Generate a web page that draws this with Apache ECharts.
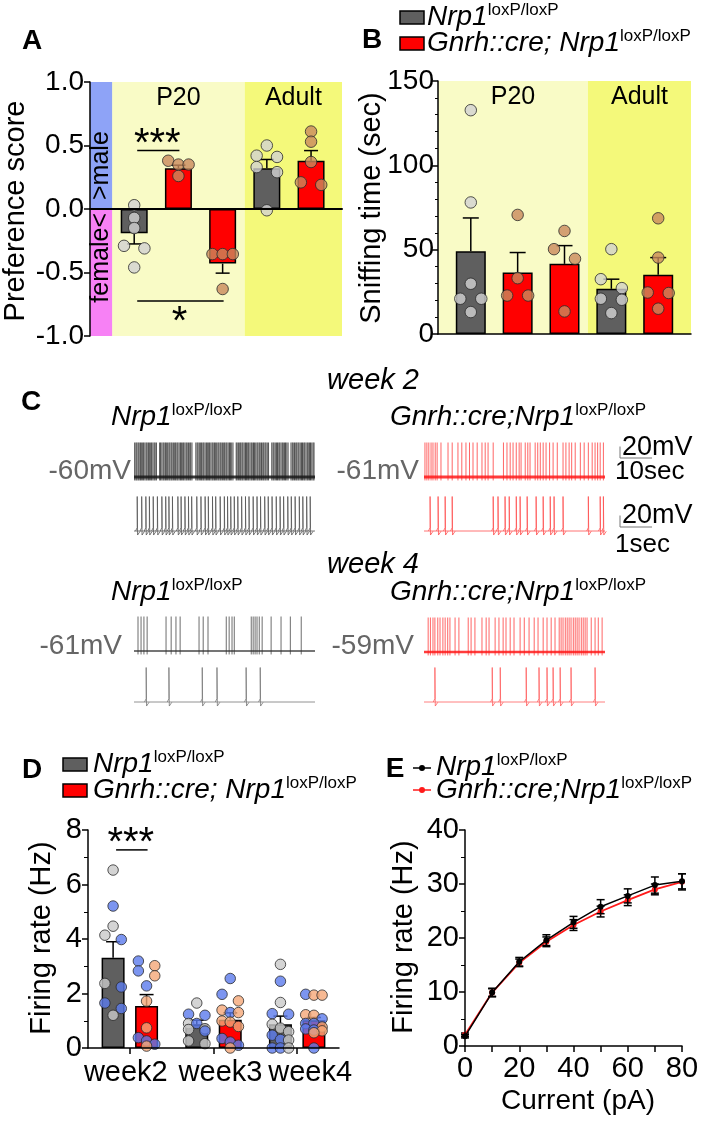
<!DOCTYPE html>
<html><head><meta charset="utf-8">
<script src="https://cdn.jsdelivr.net/npm/echarts@6.0.0/dist/echarts.min.js"></script>
<style>html,body{margin:0;padding:0;background:#fff}#c{width:709px;height:1121px}</style>
</head><body><div id="c"></div>
<script>
// ---------------- DATA ----------------
// Panel A: preference score
const aPositions = [1, 2, 3, 4, 5];
const aGenotype = ['ctrl', 'cko', 'cko', 'ctrl', 'cko'];
const aMeans = [-0.19, 0.32, -0.43, 0.32, 0.38];
const aSem = [0.085, 0.025, 0.075, 0.07, 0.08];
const aDots = [
  [0.03, -0.07, -0.15, -0.29, -0.31, -0.46],
  [0.38, 0.35, 0.35, 0.26],
  [-0.355, -0.355, -0.355, -0.63],
  [0.50, 0.42, 0.41, 0.33, 0.29, -0.01],
  [0.61, 0.53, 0.37, 0.19, 0.21]
];
const aBands = [{ name: 'P20', from: 0.5, to: 3.5 }, { name: 'Adult', from: 3.5, to: 5.7 }];
const aSideBands = [{ name: '>male', from: 0, to: 1 }, { name: 'female<', from: -1, to: 0 }];
const aSig = [[1, 2, 0.46, '***', 'above'], [1, 3, -0.725, '*', 'below']];

// Panel B: sniffing time
const bPositions = [1, 2, 3, 4, 5];
const bGenotype = ['ctrl', 'cko', 'cko', 'ctrl', 'cko'];
const bMeans = [49, 36.5, 41.6, 26.8, 35.1];
const bSem = [19.8, 11.8, 10.8, 5.7, 10.2];
const bDots = [
  [132.7, 78, 29.8, 20.9, 20.9, 13],
  [70.6, 33.1, 22.8, 22.8],
  [61.1, 50.3, 44.6, 13.4],
  [50.3, 32.5, 27.2, 20.9, 20.3, 12.4],
  [68.6, 45.3, 24.6, 24.3, 15]
];
const bBands = [{ name: 'P20', from: 0.3, to: 3.5 }, { name: 'Adult', from: 3.5, to: 5.7 }];

// Panel C: spike times (s); long traces span 56.5 s, short traces 5.65 s
const w2CtrlTop = [0.2,0.6,0.9,1.3,1.6,2.0,2.3,2.7,3.0,3.4,3.8,4.1,4.5,4.8,5.2,5.5,5.9,6.3,6.6,7.0,
  8.0,8.3,8.7,9.1,9.4,9.8,10.1,10.5,10.9,11.2,11.6,11.9,12.3,12.7,13.0,13.4,13.7,14.1,14.5,14.8,15.2,15.5,15.9,16.3,16.6,17.0,17.4,17.7,18.1,
  19.3,19.7,20.0,20.4,20.8,21.1,21.5,21.8,22.2,22.6,22.9,23.3,23.6,24.0,24.4,24.7,25.1,25.4,25.8,26.2,26.5,26.9,27.2,27.6,28.0,28.3,28.7,29.0,29.4,29.8,30.1,30.5,30.9,
  31.9,32.2,32.6,33.0,33.3,33.7,34.0,34.4,34.8,35.1,35.5,35.8,36.2,36.6,36.9,37.3,37.6,38.0,38.4,38.7,39.1,39.4,39.8,40.2,40.5,40.9,41.2,41.6,42.0,
  43.0,43.4,43.7,44.1,44.5,44.8,45.2,45.5,45.9,46.3,46.6,47.0,47.3,47.7,48.1,
  49.0,49.4,49.7,50.1,50.5,50.8,51.2,51.5,51.9,52.3,52.6,53.0,53.3,53.7,54.1,54.4,54.8,55.1,55.5,55.9,56.2];
const w2CkoTop = [0.3,0.9,1.5,2.2,2.8,3.5,4.1,5.3,7.5,8.8,10.6,11.8,13.1,14.2,15.3,16.6,18.1,19.1,20.0,21.6,24.8,25.9,26.9,27.8,28.8,29.7,30.3,31.6,32.4,33.1,34.7,35.5,36.3,37.2,38.1,39.2,40.3,41.6,43.4,44.3,45.3,46.1,47.2,48.8,50.0,51.3,52.5,53.4,54.2,55.0,56.0];
const w2CtrlBottom = [0.10,0.24,0.37,0.48,0.60,0.73,0.87,0.99,1.09,1.20,1.37,1.47,1.59,1.70,1.80,1.96,2.09,2.22,2.32,2.45,2.55,2.69,2.82,2.92,3.02,3.13,3.24,3.36,3.48,3.59,3.72,3.84,3.95,4.08,4.19,4.31,4.44,4.56,4.67,4.80,4.91,5.03,5.16,5.27,5.39,5.50];
const w2CkoBottom = [0.19,0.44,0.66,0.88,2.16,2.31,2.53,2.66,2.88,3.0,3.22,3.5,3.72,3.94,4.06,4.34,5.13,5.5,5.6];
const w4CtrlTop = [1.25,2.2,3.1,4.1,10.0,11.6,13.1,14.4,20.3,21.6,23.1,28.8,29.7,30.6,31.3,36.6,37.2,37.8,38.4,39.1,40.0,42.8,45.9,48.8,52.2];
const w4CkoTop = [1.3,2.0,2.8,3.4,4.3,5.0,5.9,6.6,7.4,8.1,9.7,10.9,13.8,14.7,15.9,18.1,19.4,20.3,22.2,23.4,24.7,25.6,26.9,28.1,30.0,31.3,32.8,34.4,35.6,37.2,38.4,39.7,40.9,42.2,42.8,43.4,44.1,44.7,45.3,45.9,46.6,47.2,47.8,48.4,49.1,49.7,50.3,50.9,52.2,53.4,54.4,55.6];
const w4CtrlBottom = [0.38,1.09,2.13,2.59,3.5,3.94];
const w4CkoBottom = [0.34,2.13,2.38,3.19,3.59,3.84,4.03,4.25,4.59,5.34];
const restPotentials = ['-60mV', '-61mV', '-61mV', '-59mV'];
const scaleBars = [{ mv: 20, sec: 10, mvLabel: '20mV', secLabel: '10sec' }, { mv: 20, sec: 1, mvLabel: '20mV', secLabel: '1sec' }];

// Panel D: firing rate by week
const dWeeks = ['week2', 'week3', 'week4'];
const dCtrlMean = [3.31, 0.87, 0.87];
const dCtrlSem = [0.59, 0.15, 0.3];
const dCkoMean = [1.54, 1.04, 1.02];
const dCkoSem = [0.42, 0.25, 0.1];
const dCtrlW2 = [[6.53,'g'],[5.21,'b'],[4.47,'g'],[4.14,'g'],[3.98,'b'],[2.37,'g'],[2.24,'b'],[1.65,'b'],[1.45,'b'],[1.20,'g']];
const dCkoW2 = [[3.19,'b'],[3.02,'o'],[2.83,'b'],[2.65,'o'],[2.28,'b'],[1.72,'o'],[0.74,'o'],[0.38,'b'],[0.26,'b'],[0.14,'b'],[0.07,'o']];
const dCtrlW3 = [[1.65,'g'],[1.24,'b'],[1.20,'b'],[0.90,'g'],[0.90,'b'],[0.71,'g'],[0.68,'g'],[0.62,'b'],[0.26,'g'],[0.16,'g']];
const dCkoW3 = [[2.55,'b'],[1.97,'b'],[1.73,'o'],[1.39,'o'],[1.30,'b'],[1.30,'o'],[0.99,'o'],[0.95,'o'],[0.79,'o'],[0.35,'b'],[0.22,'b'],[0.10,'b'],[0.0,'o']];
const dCtrlW4 = [[3.07,'g'],[2.45,'b'],[1.67,'g'],[1.26,'b'],[1.24,'b'],[0.87,'g'],[0.73,'g'],[0.60,'g'],[0.47,'b'],[0.31,'b'],[0.29,'g'],[0.0,'b'],[0.0,'b'],[0.0,'g']];
const dCkoW4 = [[1.97,'b'],[1.94,'o'],[1.94,'o'],[1.22,'o'],[1.20,'o'],[1.07,'b'],[0.90,'b'],[0.90,'b'],[0.77,'o'],[0.70,'b'],[0.66,'b'],[0.63,'o'],[0.56,'o'],[0.0,'b']];
const dSig = [[0.8, 1.2, 7.27, '***']];

// Panel E: F-I curve
const eCurrent = [0, 10, 20, 30, 40, 50, 60, 70, 80];
const eCtrl = [1.8, 9.9, 15.6, 19.6, 22.9, 25.8, 27.8, 29.8, 30.5];
const eCtrlSem = [0.3, 0.8, 0.8, 1.0, 1.1, 1.3, 1.3, 1.5, 1.4];
const eCko = [2.1, 9.9, 15.4, 19.3, 22.4, 24.9, 27.0, 29.0, 30.4];
const eCkoSem = [0.3, 0.7, 0.7, 0.9, 1.0, 1.0, 1.0, 1.0, 1.5];

// ---------------- STYLE ----------------
const FONT = '"Liberation Sans", Arial, sans-serif';
const GRAY = '#5f5f5f', RED = '#ff0000';
const genoColor = g => g === 'ctrl' ? GRAY : RED;
const dotColorAB = g => g === 'ctrl' ? '#d2d2d2' : '#c98a5c';
const dotColorD = { g: '#c9c9c9', b: '#5b7bec', o: '#f5a878' };
const BAND_P20 = '#f9fbc6', BAND_ADULT = '#f4f97a';

const chart = echarts.init(document.getElementById('c'), null, { renderer: 'canvas', width: 709, height: 1121 });

const grids = [], xAxes = [], yAxes = [], series = [], graphics = [];
const axLine = w => ({ show: true, onZero: true, lineStyle: { color: '#000', width: w || 1.5 } });
const axTick = { show: true, inside: false, length: 6, lineStyle: { color: '#000', width: 1.5 } };
const axLabel = (fs, m) => ({ color: '#000', fontSize: fs, fontFamily: FONT, margin: m });

// beeswarm-like layout: rows of close values spread horizontally
function swarm(values, center, dPx, pxPerX, pxPerY, thresh, maxRow) {
  const idx = values.map((v, i) => i).sort((a, b) => values[b] - values[a]);
  const xs = new Array(values.length);
  let row = [];
  const flush = () => {
    const n = row.length;
    row.forEach((i, k) => {
      const slot = n % 2 ? (k - (n - 1) / 2) : (k < n / 2 ? k - n / 2 : k - n / 2 + 1);
      xs[i] = center + slot * dPx / pxPerX;
    });
    row = [];
  };
  for (const i of idx) {
    if (row.length && ((values[row[0]] - values[i]) * pxPerY > thresh || row.length >= maxRow)) flush();
    row.push(i);
  }
  flush();
  return xs;
}

function errSeries(xi, yi, rows, oneSided, cap, z) {
  return {
    type: 'custom', xAxisIndex: xi, yAxisIndex: yi, z: z || 4, silent: true, data: rows,
    renderItem(params, api) {
      const x = api.value(0), m = api.value(1), s = api.value(2);
      const ch = [];
      const ends = oneSided ? [m >= 0 ? m + s : m - s] : [m + s, m - s];
      for (const e of ends) {
        const p0 = api.coord([x, m]), p1 = api.coord([x, e]);
        ch.push({ type: 'line', shape: { x1: p0[0], y1: p0[1], x2: p1[0], y2: p1[1] }, style: { stroke: '#000', lineWidth: 1.5 } });
        ch.push({ type: 'line', shape: { x1: p1[0] - cap, y1: p1[1], x2: p1[0] + cap, y2: p1[1] }, style: { stroke: '#000', lineWidth: 1.5 } });
      }
      return { type: 'group', children: ch };
    }
  };
}

function sigSeries(xi, yi, rows, fs) {
  return {
    type: 'custom', xAxisIndex: xi, yAxisIndex: yi, z: 6, silent: true,
    data: rows.map(r => [r[0], r[1], r[2]]),
    renderItem(params, api) {
      const r = rows[params.dataIndex];
      const p0 = api.coord([r[0], r[2]]), p1 = api.coord([r[1], r[2]]);
      const below = r[4] === 'below';
      const ty = below ? p0[1] + 22 : p0[1] - 6;
      return { type: 'group', children: [
        { type: 'line', shape: { x1: p0[0] + 3, y1: p0[1], x2: p1[0] + 1, y2: p1[1] }, style: { stroke: '#000', lineWidth: 1.5 } },
        { type: 'text', style: { text: r[3], x: (p0[0] + p1[0]) / 2 + 1, y: ty, font: `${fs}px ${FONT}`, align: 'center', verticalAlign: 'middle', textAlign: 'center', textVerticalAlign: 'middle', fill: '#000' } }
      ] };
    }
  };
}

function dotSeries(xi, yi, pts, size, z) {
  return {
    type: 'scatter', xAxisIndex: xi, yAxisIndex: yi, z: z || 5, silent: true, symbol: 'circle', symbolSize: size,
    data: pts.map(p => ({ value: [p[0], p[1]], itemStyle: { color: p[2], borderColor: '#2a2a2a', borderWidth: 1 } }))
  };
}

// ---------------- PANEL A ----------------
grids.push({ left: 90, top: 82, width: 252, height: 254 });
xAxes.push({ gridIndex: 0, type: 'value', min: 0, max: 5.7, axisLine: axLine(2), axisTick: { show: false }, axisLabel: { show: false }, splitLine: { show: false }, z: 10 });
yAxes.push({ gridIndex: 0, type: 'value', min: -1, max: 1, interval: 0.5, axisLine: axLine(1.5), axisTick: axTick,
  axisLabel: Object.assign(axLabel(28, 6), { formatter: v => v.toFixed(1) }), splitLine: { show: false }, z: 10 });
series.push({ type: 'line', xAxisIndex: 0, yAxisIndex: 0, data: [], z: 1, silent: true,
  markArea: { silent: true, label: { show: true, position: 'insideTop', distance: 4, color: '#000', fontSize: 25, fontFamily: FONT },
    data: aBands.map((b, i) => [{ name: b.name, xAxis: b.from, yAxis: -1, itemStyle: { color: i ? BAND_ADULT : BAND_P20 } }, { xAxis: b.to, yAxis: 1 }])
      .concat(aSideBands.map((b, i) => [{ name: '', xAxis: 0, yAxis: b.from, itemStyle: { color: i ? '#f781f5' : '#8ea3f7' } }, { xAxis: 0.5, yAxis: b.to }])) } });
series.push({ type: 'bar', xAxisIndex: 0, yAxisIndex: 0, barWidth: 27, z: 3, silent: true,
  data: aPositions.map((x, i) => ({ value: [x, aMeans[i]], itemStyle: { color: genoColor(aGenotype[i]), borderColor: '#000', borderWidth: 1.5 } })) });
series.push(errSeries(0, 0, aPositions.map((x, i) => [x, aMeans[i], aSem[i]]), true, 7));
{
  const pts = [];
  aDots.forEach((vals, g) => {
    const xs = swarm(vals, aPositions[g], 10.2, 252 / 5.7, 254 / 2, 9.8, 3);
    vals.forEach((v, k) => pts.push([xs[k], v, dotColorAB(aGenotype[g])]));
  });
  series.push(dotSeries(0, 0, pts, 11.5));
}
series.push(sigSeries(0, 0, aSig, 40));

// ---------------- PANEL B ----------------
grids.push({ left: 438, top: 81, width: 253, height: 253 });
xAxes.push({ gridIndex: 1, type: 'value', min: 0.3, max: 5.7, axisLine: axLine(1.5), axisTick: { show: false }, axisLabel: { show: false }, splitLine: { show: false }, z: 10 });
yAxes.push({ gridIndex: 1, type: 'value', min: 0, max: 150, interval: 50, axisLine: axLine(1.5), axisTick: axTick,
  minorTick: { show: true, splitNumber: 5, length: 3, lineStyle: { color: '#000', width: 1 } },
  axisLabel: axLabel(28, 4), splitLine: { show: false }, z: 10 });
series.push({ type: 'line', xAxisIndex: 1, yAxisIndex: 1, data: [], z: 1, silent: true,
  markArea: { silent: true, label: { show: true, position: 'insideTop', distance: 4, color: '#000', fontSize: 25, fontFamily: FONT },
    data: bBands.map((b, i) => [{ name: b.name, xAxis: b.from, yAxis: 0, itemStyle: { color: i ? BAND_ADULT : BAND_P20 } }, { xAxis: b.to, yAxis: 150 }]) } });
series.push({ type: 'bar', xAxisIndex: 1, yAxisIndex: 1, barWidth: 30, z: 3, silent: true,
  data: bPositions.map((x, i) => ({ value: [x, bMeans[i]], itemStyle: { color: genoColor(bGenotype[i]), borderColor: '#000', borderWidth: 1.5 } })) });
series.push(errSeries(1, 1, bPositions.map((x, i) => [x, bMeans[i], bSem[i]]), true, 8));
{
  const pts = [];
  bDots.forEach((vals, g) => {
    const xs = swarm(vals, bPositions[g], 10.5, 253 / 5.4, 253 / 150, 9.8, 3);
    vals.forEach((v, k) => pts.push([xs[k], v, dotColorAB(bGenotype[g])]));
  });
  series.push(dotSeries(1, 1, pts, 11.5));
}

// ---------------- PANEL D ----------------
grids.push({ left: 88, top: 830, width: 251, height: 218 });
const weekLabelRich = {
  w0: { fontSize: 29, fontFamily: FONT, color: '#000', padding: [0, 8, 0, 0] },
  w1: { fontSize: 29, fontFamily: FONT, color: '#000', padding: [0, 0, 0, 14] },
  w2: { fontSize: 29, fontFamily: FONT, color: '#000', padding: [0, 0, 0, 26] }
};
xAxes.push({ gridIndex: 2, type: 'category', data: dWeeks, axisLine: axLine(1.5), axisTick: { show: true, alignWithLabel: true, length: 6, lineStyle: { color: '#000', width: 1.5 } },
  axisLabel: Object.assign(axLabel(29, 10), { interval: 0, hideOverlap: false, formatter: (v, i) => `{w${i}|${v}}`, rich: weekLabelRich }),
  splitLine: { show: false }, z: 10 });
xAxes.push({ gridIndex: 2, type: 'value', min: 0.5, max: 3.5, show: false });
yAxes.push({ gridIndex: 2, type: 'value', min: 0, max: 8, interval: 2, axisLine: axLine(1.5), axisTick: axTick,
  minorTick: { show: true, splitNumber: 2, length: 4, lineStyle: { color: '#000', width: 1 } },
  axisLabel: axLabel(29, 6), splitLine: { show: false }, z: 10 });
const dxi = 3, dyi = 2;
series.push({ type: 'bar', xAxisIndex: dxi, yAxisIndex: dyi, barWidth: 23, z: 3, silent: true, barGap: '-100%',
  data: dWeeks.map((w, i) => ({ value: [i + 1 - 0.2, dCtrlMean[i]], itemStyle: { color: GRAY, borderColor: '#000', borderWidth: 1.5 } })) });
series.push({ type: 'bar', xAxisIndex: dxi, yAxisIndex: dyi, barWidth: 23, z: 3, silent: true, barGap: '-100%',
  data: dWeeks.map((w, i) => ({ value: [i + 1 + 0.2, dCkoMean[i]], itemStyle: { color: RED, borderColor: '#000', borderWidth: 1.5 } })) });
series.push(errSeries(dxi, dyi, dWeeks.map((w, i) => [i + 1 - 0.2, dCtrlMean[i], dCtrlSem[i]]).concat(dWeeks.map((w, i) => [i + 1 + 0.2, dCkoMean[i], dCkoSem[i]])), true, 7));
{
  const groups = [[dCtrlW2, 0.8], [dCkoW2, 1.2], [dCtrlW3, 1.8], [dCkoW3, 2.2], [dCtrlW4, 2.8], [dCkoW4, 3.2]];
  const pts = [];
  groups.forEach(([arr, cx]) => {
    const vals = arr.map(d => d[0]);
    const xs = swarm(vals, cx, 8.2, 251 / 3, 218 / 8, 8.5, 3);
    arr.forEach((d, k) => pts.push([xs[k], d[0], dotColorD[d[1]]]));
  });
  series.push(dotSeries(dxi, dyi, pts, 10.5));
}
series.push(sigSeries(dxi, dyi, dSig, 40));

// ---------------- PANEL E ----------------
grids.push({ left: 465, top: 830, width: 217, height: 216 });
xAxes.push({ gridIndex: 3, type: 'value', min: 0, max: 80, interval: 20, axisLine: axLine(1.5), axisTick: axTick,
  minorTick: { show: true, splitNumber: 2, length: 6, lineStyle: { color: '#000', width: 1.5 } },
  axisLabel: axLabel(29, 8), splitLine: { show: false }, z: 10 });
yAxes.push({ gridIndex: 3, type: 'value', min: 0, max: 40, interval: 10, axisLine: axLine(1.5), axisTick: axTick,
  minorTick: { show: true, splitNumber: 2, length: 4, lineStyle: { color: '#000', width: 1 } },
  axisLabel: axLabel(29, 6), splitLine: { show: false }, z: 10 });
series.push(errSeries(4, 3, eCurrent.map((c, i) => [c, eCko[i], eCkoSem[i]]), false, 4, 3));
series.push({ type: 'line', xAxisIndex: 4, yAxisIndex: 3, z: 4, silent: true, symbol: 'circle', symbolSize: 6,
  data: eCurrent.map((c, i) => [c, eCko[i]]), itemStyle: { color: '#ff1a1a' }, lineStyle: { color: '#ff1a1a', width: 1.8 } });
series.push(errSeries(4, 3, eCurrent.map((c, i) => [c, eCtrl[i], eCtrlSem[i]]), false, 4, 5));
series.push({ type: 'line', xAxisIndex: 4, yAxisIndex: 3, z: 6, silent: true, symbol: 'circle', symbolSize: 6,
  data: eCurrent.map((c, i) => [c, eCtrl[i]]), itemStyle: { color: '#000' }, lineStyle: { color: '#000', width: 1.5 } });

// ---------------- PANEL C (traces) ----------------
const TOP_DUR = 56.5, BOT_DUR = 5.65, PX_PER_MV = 0.575, TRACE_W = 181;
const topShape = [[0, -66], [0, 0]];
const botShape = [[-0.05, -60], [0, -54], [0, 0], [0.012, -67], [0.09, -60.5]];
function addTrace(left, baseY, dur, spikes, color, lw, op, baseW, shape) {
  const gi = grids.length, xi = xAxes.length, yi = yAxes.length;
  grids.push({ left: left, top: baseY - 65 * PX_PER_MV, width: TRACE_W, height: 75 * PX_PER_MV });
  xAxes.push({ gridIndex: gi, type: 'value', min: 0, max: dur, show: false });
  yAxes.push({ gridIndex: gi, type: 'value', min: -70, max: 5, show: false });
  series.push({ type: 'line', xAxisIndex: xi, yAxisIndex: yi, data: [[0, -60], [dur, -60]], symbol: 'none', silent: true, z: 2,
    lineStyle: { color: color, width: baseW, opacity: op } });
  series.push({ type: 'custom', xAxisIndex: xi, yAxisIndex: yi, silent: true, z: 3, data: spikes.map(t => [t]),
    renderItem(params, api) {
      const t = api.value(0);
      const pts = shape.map(([dt, v]) => api.coord([t + dt, v]));
      return { type: 'polyline', shape: { points: pts }, style: { stroke: color, lineWidth: lw, fill: null, opacity: op } };
    } });
}
// scale bar: own grid with the same mV/px and s/px as its traces
function addScaleBar(left, cornerY, bar, dur) {
  const gi = grids.length, xi = xAxes.length, yi = yAxes.length;
  const hPx = bar.mv * PX_PER_MV, wPx = bar.sec * TRACE_W / dur;
  grids.push({ left: left, top: cornerY - hPx, width: wPx, height: hPx });
  xAxes.push({ gridIndex: gi, type: 'value', min: 0, max: bar.sec, show: false });
  yAxes.push({ gridIndex: gi, type: 'value', min: 0, max: bar.mv, show: false });
  series.push({ type: 'line', xAxisIndex: xi, yAxisIndex: yi, symbol: 'none', silent: true, z: 2, clip: false,
    data: [[0, bar.mv], [0, 0], [bar.sec, 0]], lineStyle: { color: '#777', width: 1 } });
}
addTrace(134, 477, TOP_DUR, w2CtrlTop, '#1a1a1a', 0.9, 0.85, 3, topShape);
addTrace(424, 477, TOP_DUR, w2CkoTop, '#ff1a1a', 0.8, 0.85, 3, topShape);
addTrace(134, 531, BOT_DUR, w2CtrlBottom, '#555', 0.8, 1, 0.8, botShape);
addTrace(424, 531, BOT_DUR, w2CkoBottom, '#ff5050', 0.8, 1, 0.8, botShape);
addTrace(134, 651, TOP_DUR, w4CtrlTop, '#333', 0.8, 0.9, 1.5, topShape);
addTrace(424, 652, TOP_DUR, w4CkoTop, '#ff1a1a', 0.8, 0.85, 2.5, topShape);
addTrace(134, 702, BOT_DUR, w4CtrlBottom, '#777', 0.8, 1, 0.8, botShape);
addTrace(424, 702, BOT_DUR, w4CkoBottom, '#ff6060', 0.8, 1, 0.8, botShape);
addScaleBar(620, 458, scaleBars[0], TOP_DUR);
addScaleBar(620, 527, scaleBars[1], BOT_DUR);

// ---------------- TEXT / GRAPHICS ----------------
function txt(x, y, text, font, opts) {
  opts = opts || {};
  return { type: 'text', x: x, y: y, rotation: opts.rot || 0, silent: true, z: 100,
    style: { text: text, font: font, fill: opts.color || '#000', align: opts.align || 'center', verticalAlign: opts.va || 'middle',
      textAlign: opts.align || 'center', textVerticalAlign: opts.va || 'middle' } };
}
function supTxt(x, y, main, sup, size, supSize) {
  return { type: 'text', x: x, y: y, silent: true, z: 100,
    style: { text: `{m|${main}}{s|${sup}}`, align: 'left', verticalAlign: 'middle', textAlign: 'left', textVerticalAlign: 'middle',
      rich: {
        m: { fontFamily: FONT, fontStyle: 'italic', fontSize: size, fill: '#000', color: '#000', lineHeight: size + 2 },
        s: { fontFamily: FONT, fontSize: supSize, fill: '#000', color: '#000', verticalAlign: 'top', lineHeight: supSize + 2 }
      } } };
}
function rect(x, y, w, h, color) {
  return { type: 'rect', silent: true, z: 100, shape: { x: x, y: y, width: w, height: h }, style: { fill: color, stroke: '#000', lineWidth: 1.5 } };
}
const BOLD = `bold 28px ${FONT}`;
const T29 = `29px ${FONT}`;
graphics.push(txt(32, 41, 'A', BOLD), txt(372, 40, 'B', BOLD), txt(31, 402, 'C', BOLD), txt(32, 770, 'D', BOLD), txt(395, 769, 'E', BOLD));
// axis titles
graphics.push(txt(16, 211, 'Preference score', T29, { rot: Math.PI / 2 }));
graphics.push(txt(372, 208, 'Sniffing time (sec)', T29, { rot: Math.PI / 2 }));
graphics.push(txt(42, 938, 'Firing rate (Hz)', T29, { rot: Math.PI / 2 }));
graphics.push(txt(404, 937, 'Firing rate (Hz)', T29, { rot: Math.PI / 2 }));
graphics.push(txt(578, 1101, 'Current (pA)', `28px ${FONT}`));
// side band labels in A
graphics.push(txt(101, 200, aSideBands[0].name, `25px ${FONT}`, { rot: Math.PI / 2, align: 'left' }));
graphics.push(txt(101, 213, aSideBands[1].name, `25px ${FONT}`, { rot: Math.PI / 2, align: 'right' }));
// legend B
graphics.push(rect(400, 11, 24, 13, GRAY), rect(400, 37, 24, 13, RED));
graphics.push(supTxt(427, 17, 'Nrp1', 'loxP/loxP', 28, 17), supTxt(427, 43, 'Gnrh::cre; Nrp1', 'loxP/loxP', 28, 17));
// legend D
graphics.push(rect(63, 758, 24, 13, GRAY), rect(63, 784, 24, 13, RED));
graphics.push(supTxt(93, 764, 'Nrp1', 'loxP/loxP', 28, 17), supTxt(93, 790, 'Gnrh::cre; Nrp1', 'loxP/loxP', 28, 17));
// legend E
[[768, '#000'], [790, '#ff1a1a']].forEach(([y, c]) => {
  graphics.push({ type: 'line', silent: true, z: 100, shape: { x1: 413, y1: y, x2: 431, y2: y }, style: { stroke: c, lineWidth: 1.5 } });
  graphics.push({ type: 'circle', silent: true, z: 100, shape: { cx: 422, cy: y, r: 3 }, style: { fill: c } });
});
graphics.push(supTxt(436, 767, 'Nrp1', 'loxP/loxP', 28, 17), supTxt(436, 790, 'Gnrh::cre;Nrp1', 'loxP/loxP', 28, 17));
// panel C labels
const ITAL = `italic 29px ${FONT}`;
graphics.push(txt(373, 381, 'week 2', ITAL), txt(373, 565, 'week 4', ITAL));
graphics.push(supTxt(111, 417, 'Nrp1', 'loxP/loxP', 28, 17), supTxt(390, 417, 'Gnrh::cre;Nrp1', 'loxP/loxP', 28, 17));
graphics.push(supTxt(111, 592, 'Nrp1', 'loxP/loxP', 28, 17), supTxt(390, 592, 'Gnrh::cre;Nrp1', 'loxP/loxP', 28, 17));
const MV = `28px ${FONT}`;
graphics.push(txt(131, 471, restPotentials[0], MV, { align: 'right', color: '#666' }), txt(419, 471, restPotentials[1], MV, { align: 'right', color: '#666' }));
graphics.push(txt(122, 646, restPotentials[2], MV, { align: 'right', color: '#666' }), txt(414, 646, restPotentials[3], MV, { align: 'right', color: '#666' }));
graphics.push(txt(622, 448, scaleBars[0].mvLabel, `27px ${FONT}`, { align: 'left' }), txt(615, 472, scaleBars[0].secLabel, `26px ${FONT}`, { align: 'left' }));
graphics.push(txt(622, 516, scaleBars[1].mvLabel, `27px ${FONT}`, { align: 'left' }), txt(615, 545, scaleBars[1].secLabel, `26px ${FONT}`, { align: 'left' }));

chart.setOption({
  animation: false,
  backgroundColor: '#fff',
  textStyle: { fontFamily: FONT },
  grid: grids, xAxis: xAxes, yAxis: yAxes, series: series, graphic: graphics
});
</script></body></html>
